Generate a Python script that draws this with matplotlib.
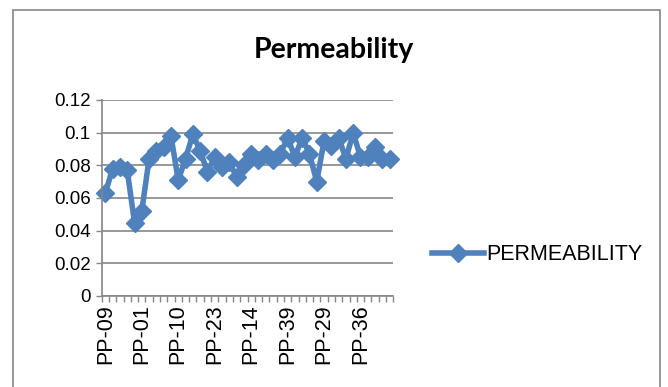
import matplotlib
matplotlib.use("Agg")
import matplotlib.pyplot as plt
from matplotlib.patches import Rectangle
from matplotlib.ticker import FixedLocator

# permeability per sample (40 samples)
permeability = [0.063, 0.078, 0.079, 0.077, 0.045, 0.052, 0.084, 0.089, 0.091, 0.098,
                0.071, 0.084, 0.099, 0.089, 0.076, 0.085, 0.079, 0.082, 0.073, 0.080,
                0.087, 0.083, 0.087, 0.083, 0.087, 0.097, 0.085, 0.097, 0.087, 0.070,
                0.095, 0.092, 0.097, 0.084, 0.100, 0.085, 0.085, 0.091, 0.084, 0.084]
# only every fifth sample name is shown on the axis
tick_labels = ["PP-09", "PP-01", "PP-10", "PP-23", "PP-14", "PP-39", "PP-29", "PP-36"]
y_ticks = [0, 0.02, 0.04, 0.06, 0.08, 0.1, 0.12]
y_labels = ["0", "0.02", "0.04", "0.06", "0.08", "0.1", "0.12"]

blue = "#4F81BD"
grey = "#868686"
W, H = 668, 387

fig = plt.figure(figsize=(W / 100, H / 100), dpi=100)
ax = fig.add_axes([101.7 / W, 1 - 296 / H, (393.3 - 101.7) / W, (296 - 100) / H])

x = list(range(len(permeability)))
ax.plot(x, permeability, color=blue, lw=4, marker="D", ms=9.5,
        mec=blue, mfc=blue, label="PERMEABILITY", clip_on=False)

ax.set_xlim(-0.5, len(permeability) - 0.5)
ax.set_ylim(0, 0.12)
ax.set_yticks(y_ticks)
ax.set_yticklabels(y_labels, fontsize=13.5, family="Liberation Sans")
ax.set_xticks(x[::5])
ax.set_xticklabels(tick_labels, rotation=90, fontsize=15.5, family="Liberation Sans")
ax.xaxis.set_minor_locator(FixedLocator([i - 0.5 for i in range(len(permeability) + 1)]))
ax.tick_params(axis="x", which="major", length=0, pad=6)
ax.tick_params(axis="x", which="minor", length=4, color=grey, width=1)
ax.tick_params(axis="y", length=4, color=grey, width=1, pad=4)

ax.grid(axis="y", color=grey, lw=1.2)
ax.set_axisbelow(True)
for s in ["top", "right"]:
    ax.spines[s].set_visible(False)
for s in ["left", "bottom"]:
    ax.spines[s].set_color(grey)
    ax.spines[s].set_linewidth(1.2)

fig.text(0.5, 1 - 50 / H, "Permeability", ha="center", va="center",
         fontsize=20.5, fontweight="bold", family="Lato")

ax.legend(loc="center left", bbox_to_anchor=(432 / W, 1 - 255 / H),
          bbox_transform=fig.transFigure, frameon=False, borderpad=0,
          borderaxespad=0, handlelength=2.4, handletextpad=0.1,
          prop={"family": "Liberation Sans", "size": 15.5})

# chart frame
fig.patches.append(Rectangle((13 / W, -0.05), (660 - 13) / W, 1.05 - 10 / H,
                             transform=fig.transFigure, fill=False,
                             edgecolor=grey, lw=1.2))

fig.savefig("out.png", dpi=100)
